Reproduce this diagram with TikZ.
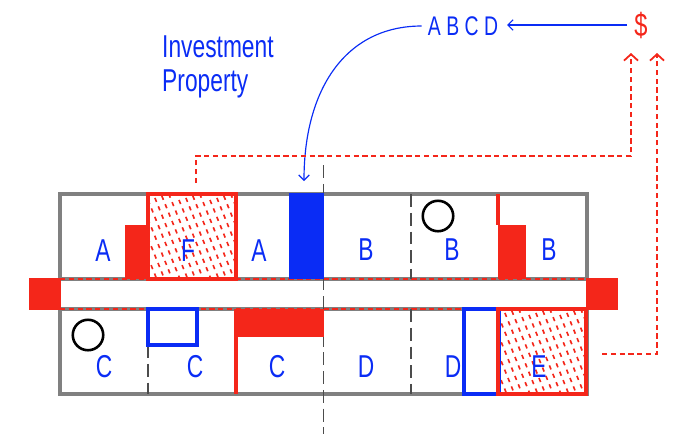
\documentclass[tikz,border=0pt]{standalone}
\usepackage{fontspec}
\usetikzlibrary{arrows.meta}
\setmainfont[FakeStretch=0.72]{Liberation Sans}
\definecolor{planred}{RGB}{244,38,26}
\definecolor{planblue}{RGB}{10,44,245}
\definecolor{plangray}{RGB}{128,128,128}
\tikzset{
    wall/.style={line width=2.6pt, plangray},
    tag/.style={text=planblue, font=\fontsize{27}{27}\selectfont, inner sep=0pt},
    cash/.style={line width=1.5pt, planred, dash pattern=on 4.5pt off 3pt},
    redbox/.style={line width=3.2pt, planred},
    bluebox/.style={line width=2.6pt, planblue},
    split/.style={line width=0.9pt, black!70, dash pattern=on 11pt off 5pt},
    hatch/.style={line width=1.4pt, planred},
    spot/.style={circle, draw, line width=2.2pt, minimum size=26pt, inner sep=0pt},
    blueline/.style={line width=1pt, planblue},
    bluetip/.style={-{Straight Barb[length=4.5pt, width=9pt]}},
    redtip/.style={-{Straight Barb[length=5.5pt, width=12pt]}}
}
\newcommand{\hatchcell}[4]{%
    \begin{scope}
        \clip (#1,#2) rectangle (#3,#4);
        \foreach \r in {-1,...,10}
            \foreach \c in {-3,...,17}
                \draw[hatch] (#1+6.9*\c-3.5*\r,#2+10.5*\r-2.1*\c+6) -- ++(1.6,4);
    \end{scope}
}
\begin{document}
\begin{tikzpicture}[x=0.03cm, y=-0.03cm, >=stealth]
    \useasboundingbox (0,0) rectangle (684,434);

    % Hatched cells
    \hatchcell{148}{194}{236}{279}
    \hatchcell{498}{309}{586}{394}

    % Walls
    \draw[wall] (60,194) rectangle (587,279);
    \draw[wall] (60,309) rectangle (587,394);
    \draw[cash] (60,279) -- (586,279);
    \draw[cash] (60,309) -- (464,309);

    % Splits
    \draw[split] (323.5,165) -- (323.5,434);
    \draw[split] (411,194) -- (411,279);
    \draw[split] (411,309) -- (411,394);
    \draw[split] (148,345) -- (148,394);

    % Red blocks
    \fill[planred] (29,278) rectangle (61,310);
    \fill[planred] (586,278) rectangle (618,310);
    \fill[planred] (125,225) rectangle (148,279);
    \fill[planred] (498,225) rectangle (526,279);
    \fill[planred] (234,309) rectangle (324,337);

    % Blue block
    \fill[planblue] (289,193) rectangle (324,279);

    % Blue boxes
    \draw[bluebox] (148,309) rectangle (197,345);
    \draw[bluebox] (499,309) -- (464,309) -- (464,394) -- (499,394);
    \draw[bluebox] (499,309) -- (499,394);

    % Red walls and boxes
    \draw[redbox] (148,194) rectangle (236,279);
    \draw[redbox] (498,309) rectangle (586,394);
    \draw[redbox] (498,194) -- (498,225);
    \draw[redbox] (236,337) -- (236,394);

    % Circles
    \node[spot] (spotb) at (438,216) {};
    \node[spot] (spotc) at (88,335) {};

    % Labels
    \foreach \name/\px/\py/\txt in {aone/103/251/A, fcell/188/251/F, atwo/259/251/A,
        bone/366/250/B, btwo/452/250/B, bthree/549/250/B,
        cone/104/367/C, ctwo/195/367/C, cthree/277/367/C,
        done/366/367/D, dtwo/453/367/D, ecell/539/367/E}
        \node[tag] (\name) at (\px,\py) {\txt};
    \node[tag, align=left, anchor=base west, font=\fontsize{27}{29}\selectfont] (invest) at (162,91) {Investment\\Property};

    % Top row
    \node[tag, font=\fontsize{23}{23}\selectfont] (tenants) at (463,26) {A B C D};
    \node[tag, text=planred, font=\fontsize{28}{28}\selectfont] (dollar) at (641,25) {\$};
    \coordinate (door) at (304,181);
    \coordinate (cashone) at (631,53);
    \coordinate (cashtwo) at (657,53);
    \coordinate (fstart) at (196,183);
    \coordinate (estart) at (602,354);

    % Arrows
    \draw[blueline, bluetip] (627,25) -- (507,25);
    \draw[blueline, bluetip] (tenants.west) ++(-6,0) .. controls (345,26) and (304,90) .. (door);
    \draw[cash, redtip] (fstart) -- (196,156) -- (631,156) -- (cashone);
    \draw[cash, redtip] (estart) -- (657,354) -- (cashtwo);
\end{tikzpicture}
\end{document}
